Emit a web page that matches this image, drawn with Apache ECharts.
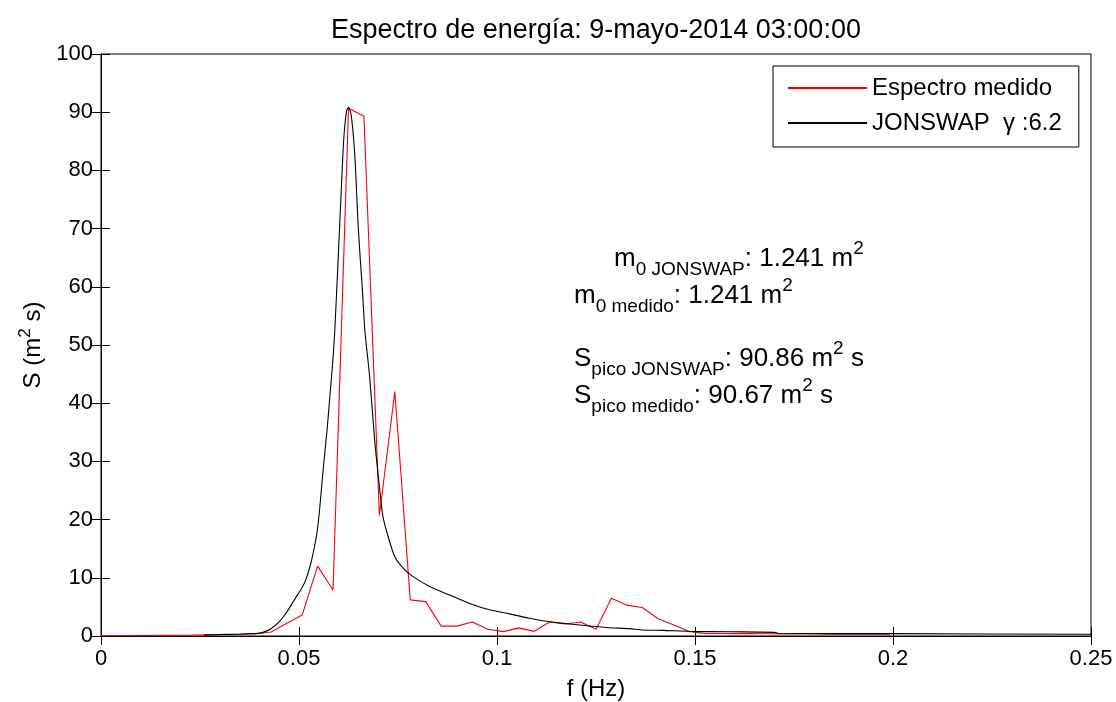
<!DOCTYPE html>
<html><head><meta charset="utf-8">
<script src="https://cdn.jsdelivr.net/npm/echarts@6/dist/echarts.min.js"></script>
<style>html,body{margin:0;padding:0;background:#fff}#c{width:1116px;height:702px}</style>
</head><body><div id="c"></div>
<script>
// Measured spectrum (red), frequency bins in Hz
const measuredFreq = [0, 0.0039, 0.0078, 0.0117, 0.0156, 0.0195, 0.0234, 0.0273, 0.0313, 0.0352,
  0.0391, 0.043, 0.0469, 0.0508, 0.0547, 0.0586, 0.0625, 0.0664, 0.0703, 0.0742,
  0.0781, 0.082, 0.0859, 0.0898, 0.0938, 0.0977, 0.1016, 0.1055, 0.1094, 0.1133,
  0.1172, 0.1211, 0.125, 0.1289, 0.1328, 0.1367, 0.1406, 0.1445, 0.1484, 0.1523,
  0.1563, 0.1602, 0.1641, 0.168, 0.1719, 0.1758, 0.1797, 0.1836, 0.1875, 0.1914,
  0.1953, 0.1992];
const measuredS = [0.05, 0.05, 0.06, 0.08, 0.1, 0.12, 0.15, 0.2, 0.25, 0.3,
  0.4, 0.7, 2.2, 3.6, 12.0, 7.9, 90.67, 89.3, 20.7, 42.0,
  6.2, 5.9, 1.7, 1.7, 2.4, 1.15, 0.75, 1.4, 0.8, 2.4,
  2.05, 2.4, 1.15, 6.5, 5.3, 4.9, 3.0, 1.95, 0.8, 0.45,
  0.42, 0.4, 0.4, 0.38, 0.36, 0.35, 0.34, 0.33, 0.32, 0.31,
  0.3, 0.3];

// JONSWAP fitted spectrum (black)
const jonswapFreq = [0.026, 0.030, 0.034, 0.0376, 0.040, 0.0414, 0.043, 0.0452, 0.047, 0.0489,
  0.0505, 0.0515, 0.0525, 0.0532, 0.0544, 0.0552, 0.0561, 0.0571, 0.0578, 0.0585,
  0.0590, 0.0597, 0.0603, 0.0608, 0.0613, 0.0620, 0.0625, 0.0632, 0.0641, 0.0649,
  0.0655, 0.0660, 0.0666, 0.0670, 0.0679, 0.0691, 0.0704, 0.0712, 0.0725, 0.0742,
  0.0763, 0.0788, 0.083, 0.088, 0.0931, 0.0981, 0.1032, 0.1082, 0.1133, 0.1183,
  0.1234, 0.1284, 0.1334, 0.1368, 0.1419, 0.1486, 0.1587, 0.170, 0.171, 0.20, 0.25];
const jonswapS = [0.2, 0.25, 0.3, 0.4, 0.5, 0.75, 1.3, 2.6, 4.2, 6.3,
  8.0, 9.3, 11.3, 13.1, 17.1, 21.7, 28.6, 35.5, 41.2, 46.9,
  52.0, 62.0, 71.0, 78.5, 85.4, 90.2, 90.86, 89.4, 82.5, 71.0,
  64.5, 59.6, 52.7, 50.0, 44.1, 33.7, 25.1, 20.5, 17.1, 13.6,
  11.65, 10.2, 8.5, 7.05, 5.6, 4.5, 3.8, 3.05, 2.46, 2.07,
  1.72, 1.43, 1.26, 1.03, 0.97, 0.8, 0.72, 0.63, 0.46, 0.4, 0.3];

const xTicks = {min: 0, max: 0.25, interval: 0.05};
const yTicks = {min: 0, max: 100, interval: 10};

const titleText = 'Espectro de energía: 9-mayo-2014 03:00:00';
const seriesNames = ['Espectro medido', 'JONSWAP  \u03b3 :6.2'];
const annotations = [
  {main: 'm', sub: '0 JONSWAP', rest: ': 1.241 m', sup: '2', tail: ''},
  {main: 'm', sub: '0 medido', rest: ': 1.241 m', sup: '2', tail: ''},
  {main: 'S', sub: 'pico JONSWAP', rest: ': 90.86 m', sup: '2', tail: ' s'},
  {main: 'S', sub: 'pico medido', rest: ': 90.67 m', sup: '2', tail: ' s'}
];

const FF = '"Liberation Sans", Arial, Helvetica, sans-serif';
const chart = echarts.init(document.getElementById('c'), null, {renderer: 'canvas'});

const pair = (xs, ys) => xs.map((x, i) => [x, ys[i]]);

const annPos = [[614, 239], [574, 276], [574, 339], [574, 376]];
const richAnn = {
  m: {fontSize: 26, lineHeight: 40, fontFamily: FF, fill: '#000'},
  sub: {fontSize: 19, lineHeight: 22, verticalAlign: 'bottom', fontFamily: FF, fill: '#000'},
  sup: {fontSize: 19, lineHeight: 24, verticalAlign: 'top', fontFamily: FF, fill: '#000'}
};

function tick() { return {show: true, inside: true, length: 9, lineStyle: {color: '#000', width: 1}}; }

const option = {
  animation: false,
  backgroundColor: '#fff',
  title: {
    text: titleText,
    left: 591, top: 12, textAlign: 'center',
    textStyle: {fontFamily: FF, fontSize: 27, fontWeight: 'normal', color: '#000'}
  },
  legend: {
    orient: 'vertical',
    left: 773, top: 66,
    padding: [10, 17, 12, 14],
    itemGap: 11,
    itemWidth: 79, itemHeight: 24,
    borderColor: '#000', borderWidth: 1,
    itemStyle: {opacity: 0},
    textStyle: {fontFamily: FF, fontSize: 24, color: '#000'},
    data: seriesNames
  },
  grid: {left: 101, right: 25, top: 54, bottom: 66, show: true, borderColor: '#000', borderWidth: 1,
    containLabel: false, outerBoundsMode: 'none'},
  xAxis: [{
    type: 'value', ...xTicks, position: 'bottom',
    name: 'f (Hz)', nameLocation: 'middle', nameGap: 41,
    nameTextStyle: {fontFamily: FF, fontSize: 24, color: '#000'},
    axisLine: {lineStyle: {color: '#000'}},
    axisTick: tick(),
    axisLabel: {fontFamily: FF, fontSize: 22, color: '#000', margin: 12},
    splitLine: {show: false}
  }, {
    type: 'value', ...xTicks, position: 'top',
    axisLine: {lineStyle: {color: '#000'}},
    axisTick: tick(),
    axisLabel: {show: false}, splitLine: {show: false}
  }],
  yAxis: [{
    type: 'value', ...yTicks, position: 'left',
    name: '{t|S (m}{sup|2}{t| s)}', nameLocation: 'middle', nameGap: 50,
    nameTextStyle: {fontFamily: FF, fontSize: 24, color: '#000',
      rich: {
        t: {fontFamily: FF, fontSize: 24, lineHeight: 34, color: '#000'},
        sup: {fontFamily: FF, fontSize: 17, lineHeight: 20, verticalAlign: 'top', color: '#000'}
      }},
    axisLine: {lineStyle: {color: '#000'}},
    axisTick: tick(),
    axisLabel: {fontFamily: FF, fontSize: 22, color: '#000', margin: 8},
    splitLine: {show: false}
  }, {
    type: 'value', ...yTicks, position: 'right',
    axisLine: {lineStyle: {color: '#000'}},
    axisTick: tick(),
    axisLabel: {show: false}, splitLine: {show: false}
  }],
  series: [{
    name: seriesNames[0], type: 'line', data: pair(measuredFreq, measuredS),
    symbol: 'none', showSymbol: false, smooth: false,
    lineStyle: {color: '#ff0000', width: 1.1}, itemStyle: {color: '#ff0000'}, z: 2
  }, {
    name: seriesNames[1], type: 'line', data: pair(jonswapFreq, jonswapS),
    symbol: 'none', showSymbol: false, smooth: 0.25,
    lineStyle: {color: '#000', width: 1.1}, itemStyle: {color: '#000'}, z: 3
  }],
  graphic: annotations.map((a, i) => ({
    type: 'text', left: annPos[i][0], top: annPos[i][1], z: 10,
    style: {
      text: '{m|' + a.main + '}{sub|' + a.sub + '}{m|' + a.rest + '}{sup|' + a.sup + '}' + (a.tail ? '{m|' + a.tail + '}' : ''),
      rich: richAnn, fontFamily: FF, fontSize: 26, fill: '#000'
    }
  }))
};
chart.setOption(option);
</script></body></html>
